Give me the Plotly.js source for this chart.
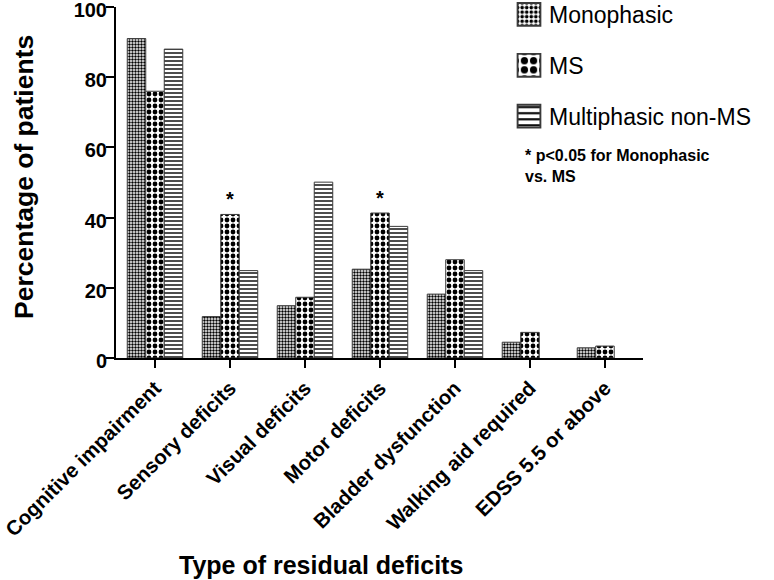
<!DOCTYPE html>
<html>
<head>
<meta charset="utf-8">
<script src="https://cdn.plot.ly/plotly-3.0.1.min.js"></script>
<style>html,body{margin:0;padding:0;background:#fff;}#chart{width:774px;height:580px;}</style>
</head>
<body>
<div id="chart"></div>
<script>
var categories = ['Cognitive impairment','Sensory deficits','Visual deficits','Motor deficits','Bladder dysfunction','Walking aid required','EDSS 5.5 or above'];
var monophasic = [91, 11.8, 14.9, 25.3, 18.2, 4.5, 2.9];
var ms = [76, 40.9, 17.3, 41.3, 28, 7.3, 3.4];
var multiphasic = [88, 24.9, 50.1, 37.5, 24.9, 0, 0];
var seriesNames = ['Monophasic','MS','Multiphasic non-MS'];
var significant = ['Sensory deficits','Motor deficits'];
var yTicks = [0,20,40,60,80,100];

var FONT = 'Arial, "Liberation Sans", sans-serif';

function outline(vals){
  return {color:'#3a3a3a', width: vals.map(function(v){ return v > 0 ? 1 : 0; })};
}

var traces = [
  {type:'bar', name:seriesNames[0], x:categories, y:monophasic, legendgroup:'a',
   marker:{color:'#ffffff', line:outline(monophasic), pattern:{shape:'.', size:3, solidity:0.5, fgcolor:'#000', bgcolor:'#fff', fillmode:'replace'}}},
  {type:'bar', name:seriesNames[1], x:categories, y:ms, legendgroup:'b',
   marker:{color:'#ffffff', line:outline(ms), pattern:{shape:'.', size:6, solidity:0.5, fgcolor:'#000', bgcolor:'#fff', fillmode:'replace'}}},
  {type:'bar', name:seriesNames[2], x:categories, y:multiphasic, legendgroup:'c',
   marker:{color:'#ffffff', line:outline(multiphasic), pattern:{shape:'-', size:4, solidity:0.35, fgcolor:'#000', bgcolor:'#fff', fillmode:'replace'}}}
];

var annotations = significant.map(function(c){
  return {x:c, y:ms[categories.indexOf(c)], xref:'x', yref:'y', text:'<b>*</b>', showarrow:false,
          yanchor:'bottom', yshift:2, font:{family:FONT, size:20, color:'#000'}};
});
annotations.push({xref:'paper', yref:'paper', x:(523-116)/527, y:(358-145)/351, xanchor:'left', yanchor:'top', align:'left',
  text:'<b>* p&lt;0.05 for Monophasic<br>vs. MS</b>', showarrow:false, font:{family:FONT, size:16, color:'#000'}});
annotations.push({xref:'paper', yref:'paper', x:(24-116)/527, y:(358-177)/351, xanchor:'center', yanchor:'middle',
  text:'<b>Percentage of patients</b>', textangle:-90, showarrow:false, font:{family:FONT, size:26.5, color:'#000'}});
annotations.push({xref:'paper', yref:'paper', x:(321-116)/527, y:(358-565)/351, xanchor:'center', yanchor:'middle',
  text:'<b>Type of residual deficits</b>', showarrow:false, font:{family:FONT, size:25, color:'#000'}});

var layout = {
  width:774, height:580,
  margin:{l:116, r:131, t:7, b:222, pad:0, autoexpand:false},
  paper_bgcolor:'#fff', plot_bgcolor:'#fff',
  barmode:'group', bargap:0.26, bargroupgap:0,
  font:{family:FONT, color:'#000'},
  xaxis:{type:'category', range:[-0.52, 6.507], showline:true, linecolor:'#000', linewidth:2,
         ticks:'outside', ticklen:8, tickwidth:2, tickcolor:'#000', tickangle:-45, automargin:false, ticklabeloverflow:'allow',
         tickfont:{family:FONT, size:20.5, color:'#000', weight:'bold'}, showgrid:false, zeroline:false, fixedrange:true},
  yaxis:{range:[0,100], tickvals:yTicks, ticktext:yTicks.map(String), showline:true, linecolor:'#000', linewidth:2,
         ticks:'outside', ticklen:8, tickwidth:2, tickcolor:'#000', ticklabelstandoff:-5, ticklabelshift:3, automargin:false, ticklabeloverflow:'allow',
         tickfont:{family:FONT, size:20, color:'#000', weight:'bold'}, showgrid:false, zeroline:false, fixedrange:true},
  showlegend:true,
  legend:{x:(509-116)/527, y:1.04, xanchor:'left', yanchor:'top', bgcolor:'rgba(0,0,0,0)',
          font:{family:FONT, size:23, color:'#000'}, traceorder:'grouped', tracegroupgap:18, valign:'middle'},
  annotations:annotations
};

Plotly.newPlot('chart', traces, layout, {displayModeBar:false, staticPlot:true}).then(function(gd){
  var pts = gd.querySelectorAll('.legend .legendpoints path');
  for (var i = 0; i < pts.length; i++) {
    var t = pts[i].getAttribute('transform') || '';
    pts[i].setAttribute('transform', t + ' scale(1.9)');
  }
});
</script>
</body>
</html>
